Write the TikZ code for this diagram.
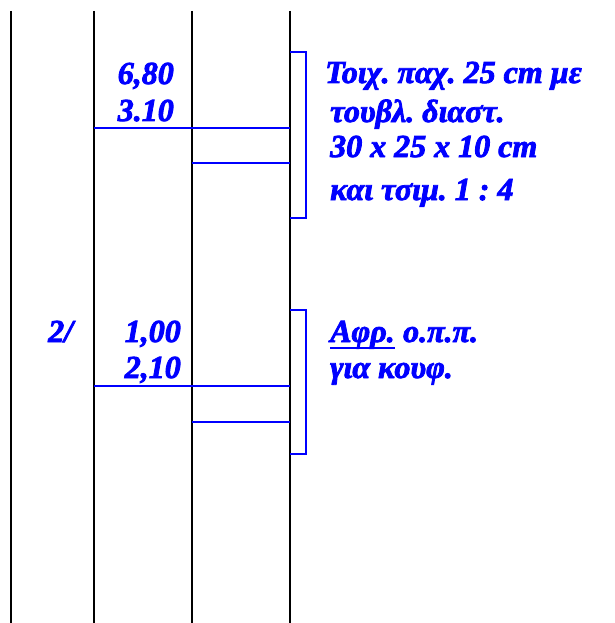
\documentclass[tikz,border=0pt]{standalone}
\usepackage{fontspec}
\setmainfont{Liberation Serif}
\newfontfamily\bifont{Liberation Serif}[UprightFont={* Italic},FakeBold=2.6]
\definecolor{tblue}{RGB}{0,0,255}
\frenchspacing
\begin{document}
\begin{tikzpicture}[x=1pt,y=-1pt,
  wall/.style={line width=2.8pt,black},
  bl/.style={line width=2pt,tblue},
  brk/.style={line width=1.6pt,tblue},
  uline/.style={line width=2.6pt,tblue},
  lbl/.style={inner sep=0pt,text=tblue,font=\bifont\fontsize{32}{37}\selectfont\bfseries}]
\useasboundingbox (0,0) rectangle (614,623);
% vertical lines
\foreach \n/\x in {a/11,b/94,c/192,d/290}{
  \coordinate (\n t) at (\x,11);
  \coordinate (\n b) at (\x,623);
  \draw[wall] (\n t) -- (\n b);
}
% upper group
\coordinate (h1s) at (94,128); \coordinate (h1e) at (290,128);
\coordinate (h2s) at (192,163); \coordinate (h2e) at (290,163);
\draw[bl] (h1s) -- (h1e);
\draw[bl] (h2s) -- (h2e);
\coordinate (k1t) at (290,52); \coordinate (k1b) at (290,218);
\draw[brk] (k1t) -- ++(16,0) |- (k1b);
% lower group
\coordinate (h3s) at (94,386); \coordinate (h3e) at (290,386);
\coordinate (h4s) at (192,422); \coordinate (h4e) at (290,422);
\draw[bl] (h3s) -- (h3e);
\draw[bl] (h4s) -- (h4e);
\coordinate (k2t) at (290,310); \coordinate (k2b) at (290,454);
\draw[brk] (k2t) -- ++(16,0) |- (k2b);
% labels
\node[lbl,anchor=base east] (t1) at (174,84) {6,80};
\node[lbl,anchor=base east] (t2) at (174,121) {3.10};
\node[lbl,anchor=base east] (t3) at (181,342) {1,00};
\node[lbl,anchor=base east] (t4) at (181,378) {2,10};
\node[lbl,anchor=base west] (t5) at (48,342) {2/};
\node[lbl,anchor=base west] (r1) at (325,83) {Τοιχ. παχ. 25 cm με};
\node[lbl,anchor=base west] (r2) at (330,122) {τουβλ. διαστ.};
\node[lbl,anchor=base west] (r3) at (330,157) {30 x 25 x 10 cm};
\node[lbl,anchor=base west] (r4) at (330,200) {και τσιμ. 1 : 4};
\node[lbl,anchor=base west] (r5) at (330,342) {Αφρ.};
\node[lbl,anchor=base west] (r5b) at ([xshift=8pt]r5.base east) {ο.π.π.};
\draw[uline] ([yshift=-6pt]r5.base west) -- ([yshift=-6pt]r5.base east);
\node[lbl,anchor=base west] (r6) at (330,378) {για κουφ.};
\end{tikzpicture}
\end{document}
